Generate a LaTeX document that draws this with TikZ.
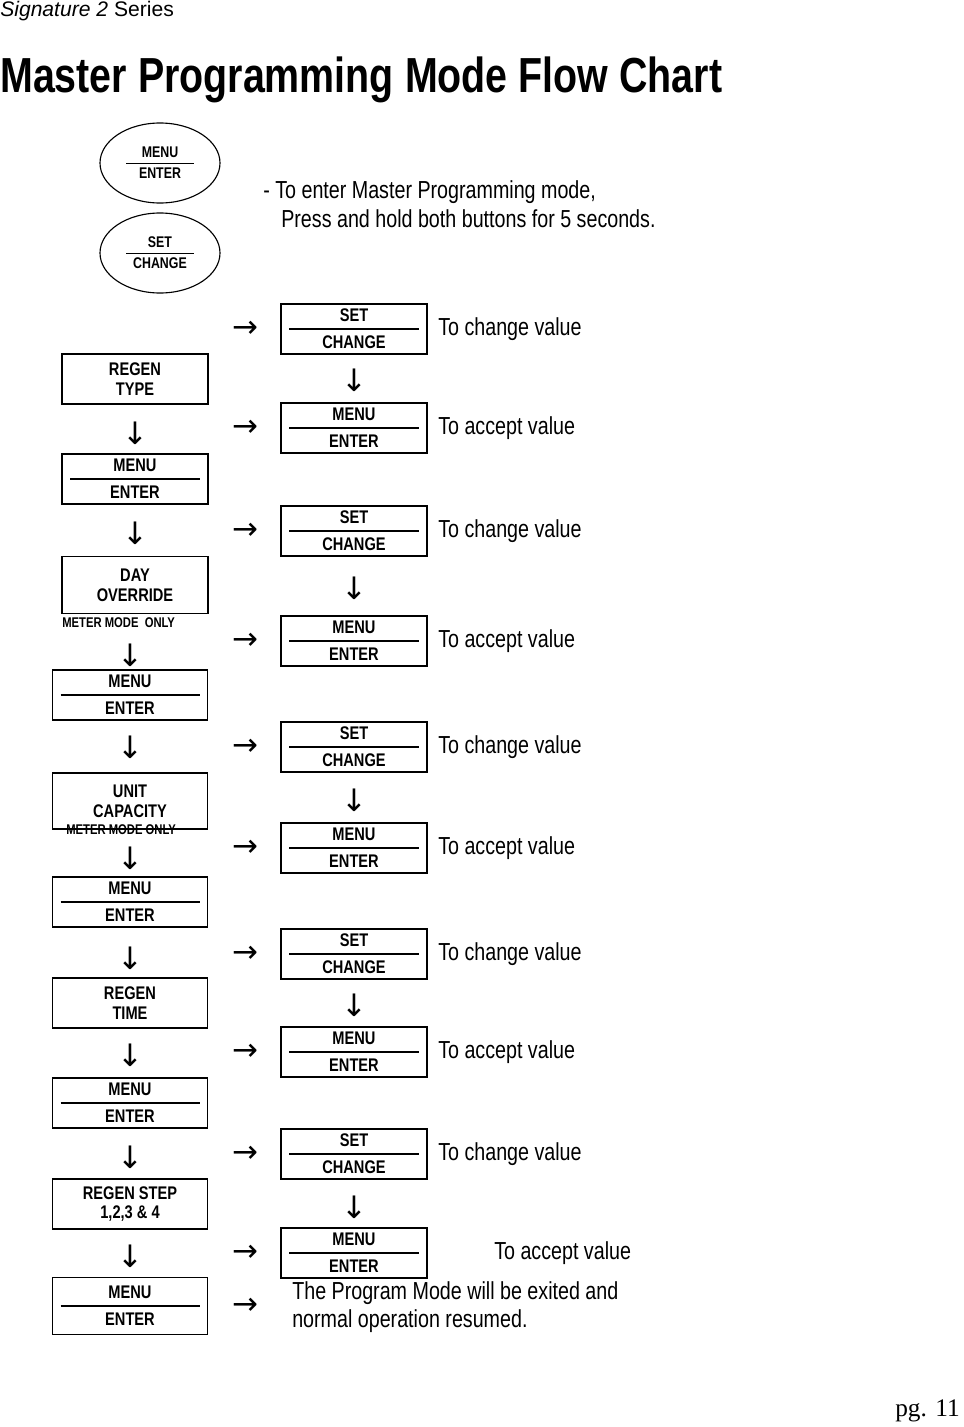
\documentclass[tikz,border=0pt]{standalone}
\usepackage{fontspec}
\setmainfont{Liberation Sans}
\newfontfamily\narrow{Liberation Sans}[FakeStretch=0.8]
\newfontfamily\pgfont{Liberation Serif}
\newfontfamily\arrfont{DejaVu Sans}
\usetikzlibrary{positioning,shapes.geometric}
\tikzset{
  btn/.style={rectangle, draw=black, thick, minimum width=146*0.025cm,
              minimum height=50*0.025cm, align=center, inner sep=0pt,
              font=\narrow\bfseries\fontsize{13}{14}\selectfont},
  split/.style={btn, path picture={\draw[thick]
              ([xshift=8*0.025cm]path picture bounding box.west) --
              ([xshift=-8*0.025cm]path picture bounding box.east);}},
  oval/.style={ellipse, draw=black, thick, minimum width=120*0.025cm,
              minimum height=80*0.025cm, align=center, inner sep=0pt,
              font=\narrow\bfseries\fontsize{11}{15}\selectfont},
  note/.style={anchor=west, inner sep=0pt, font=\narrow\fontsize{17.5}{20}\selectfont},
  arr/.style={inner sep=0pt, font=\arrfont\fontsize{22}{22}\selectfont},
  small/.style={anchor=west, inner sep=0pt, font=\narrow\bfseries\fontsize{10}{12}\selectfont},
}
\begin{document}
\begin{tikzpicture}[x=0.025cm, y=-0.025cm]
  \useasboundingbox (0,0) rectangle (963,1427);

  % Header
  \node[anchor=west, inner sep=0pt, font=\fontsize{15}{18}\selectfont] (hdr) at (0,11) {\textit{Signature 2} Series};
  \node[anchor=west, inner sep=0pt, font=\narrow\bfseries\fontsize{35}{40}\selectfont] (title) at (0,80) {Master Programming Mode Flow Chart};

  % Entry buttons
  \node[oval] (om) at (160,163) {MENU\\ENTER};
  \draw ([xshift=-34*0.025cm]om.center) -- ([xshift=34*0.025cm]om.center);
  \node[oval] (os) at (160,253) {SET\\CHANGE};
  \draw ([xshift=-34*0.025cm]os.center) -- ([xshift=34*0.025cm]os.center);
  \node[note] (n0) at (263,192) {- To enter Master Programming mode,};
  \node[note] (n1) at (281,219) {Press and hold both buttons for 5 seconds.};

  % Left column
  \node[btn]   (l1)  at (135,379)  {REGEN\\TYPE};
  \node[split] (l2)  at (135,479)  {MENU\\[5pt]ENTER};
  \node[btn, minimum height=57*0.025cm] (l3) at (135,585) {DAY\\OVERRIDE};
  \node[small] (m1)  at (62,623)   {METER MODE\ \ ONLY};
  \node[split, minimum width=155*0.025cm] (l4) at (130,695) {MENU\\[5pt]ENTER};
  \node[btn, minimum width=155*0.025cm, minimum height=56*0.025cm] (l5) at (130,801) {UNIT\\CAPACITY};
  \node[small] (m2)  at (66,830)   {METER MODE ONLY};
  \node[split, minimum width=155*0.025cm] (l6) at (130,902)  {MENU\\[5pt]ENTER};
  \node[btn, minimum width=155*0.025cm] (l7) at (130,1003) {REGEN\\TIME};
  \node[split, minimum width=155*0.025cm] (l8) at (130,1103) {MENU\\[5pt]ENTER};
  \node[btn, minimum width=155*0.025cm] (l9) at (130,1204) {REGEN STEP\\1,2,3 \& 4};
  \node[split, minimum width=155*0.025cm, minimum height=57*0.025cm] (l10) at (130,1306) {MENU\\[5pt]ENTER};

  % Right column
  \foreach \y/\t/\b [count=\i] in {329/SET/CHANGE, 428/MENU/ENTER, 531/SET/CHANGE,
      641/MENU/ENTER, 747/SET/CHANGE, 848/MENU/ENTER, 954/SET/CHANGE,
      1052/MENU/ENTER, 1154/SET/CHANGE, 1253/MENU/ENTER}
    \node[split] (r\i) at (354,\y) {\t\\[5pt]\b};

  % Notes
  \foreach \y/\t in {329/change, 428/accept, 531/change, 641/accept, 747/change,
      848/accept, 954/change, 1052/accept, 1154/change}
    \node[note] at (438,\y) {To \t\ value};
  \node[note] (na) at (494,1253) {To accept value};
  \node[note] (e1) at (292,1293) {The Program Mode will be exited and};
  \node[note] (e2) at (292,1321) {normal operation resumed.};

  % Arrows
  \foreach \y in {329,428,531,641,747,848,954,1052,1154,1253,1306}
    \node[arr] at (245,\y) {→};
  \foreach \x/\y in {135/433,135/533,130/655,130/747,130/858,130/958,130/1055,130/1157,130/1256}
    \node[arr] at (\x,\y) {↓};
  \foreach \y in {380,588,800,1005,1207}
    \node[arr] at (354,\y) {↓};

  \node[anchor=east, inner sep=0pt, font=\pgfont\fontsize{18}{20}\selectfont] (pg) at (960,1411) {pg. 11};
\end{tikzpicture}
\end{document}
